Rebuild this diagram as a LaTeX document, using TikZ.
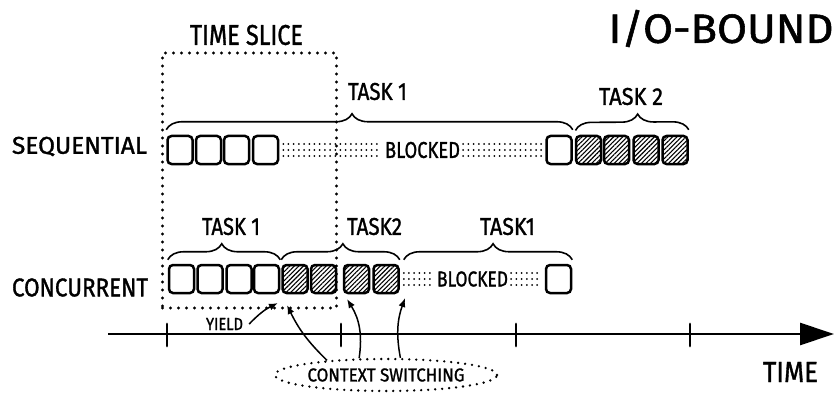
\documentclass[tikz,border=0pt]{standalone}
\usepackage{fontspec}
\setmainfont{Fira Sans}[FakeBold=1.3]
\usepackage{graphicx}
\usetikzlibrary{arrows.meta,decorations.pathreplacing,shapes.geometric,patterns.meta}
\newcommand{\fitt}[3]{\resizebox{#1pt}{#2pt}{#3}}
\begin{document}
\begin{tikzpicture}[x=1pt,y=-1pt,
  pbox/.style={draw, line width=2.5pt, rounded corners=4pt, minimum width=25pt, minimum height=28pt, inner sep=0pt},
  hbox/.style={pbox, pattern={Lines[angle=45,distance=3.2pt,line width=1.1pt]}},
  lbl/.style={inner sep=0pt},
  dotrow/.style={line width=2pt, line cap=round, dash pattern=on 0pt off 5.2pt},
  slicebox/.style={draw, line width=3.3pt, line cap=round, dash pattern=on 0pt off 8pt, minimum width=174pt, minimum height=255pt, inner sep=0pt},
  ctxell/.style={ellipse, draw, line width=2.6pt, line cap=round, dash pattern=on 0pt off 7pt, minimum width=190pt, minimum height=32pt, inner sep=0pt},
  bracestyle/.style={line width=1.6pt, decorate, decoration={brace, amplitude=16pt, aspect=#1}},
  axisline/.style={line width=2.6pt, -{Triangle[length=34pt,width=22pt]}},
  tickmark/.style={line width=2.8pt, line cap=round},
  arr/.style={line width=1.5pt, -{Latex[length=9pt,width=7pt]}}
]
\useasboundingbox (0,0) rectangle (835,393);

% time slice box
\node[slicebox] (slice) at (249.5,180.5) {};
\node[lbl] (ttl) at (246.5,35) {\fitt{113}{20}{TIME SLICE}};
\node[lbl] (io) at (721,28.5) {\fitt{225}{33}{I/O-BOUND}};

% sequential row
\node[lbl] (seq) at (79.5,146.5) {\fitt{135}{17}{SEQUENTIAL}};
\node[pbox] (s1) at (180,150) {};
\node[pbox] (s2) at (208.5,150) {};
\node[pbox] (s3) at (236.5,150) {};
\node[pbox] (s4) at (265.5,150) {};
\node[lbl] (bs) at (422.5,150) {\fitt{75}{16}{BLOCKED}};
\node[pbox] (s5) at (559,150) {};
\node[hbox] (h1) at (588.5,150) {};
\node[hbox] (h2) at (616.5,150) {};
\node[hbox] (h3) at (646,150) {};
\node[hbox] (h4) at (675,150) {};
\foreach \d in {-6,0,6} {
  \draw[dotrow] ([xshift=4pt,yshift=\d pt]s4.east) -- ([xshift=-3pt,yshift=\d pt]bs.west);
  \draw[dotrow] ([xshift=3pt,yshift=\d pt]bs.east) -- ([xshift=-3pt,yshift=\d pt]s5.west);
}
\draw[bracestyle=0.457] ([yshift=5pt]s1.north west) -- ([yshift=5pt]s5.north east);
\draw[bracestyle=0.55] ([yshift=5pt]h1.north west) -- ([yshift=5pt]h4.north east);
\node[lbl] (tk1) at (377.5,91.5) {\fitt{59}{17}{TASK 1}};
\node[lbl] (tk2) at (631,96.5) {\fitt{64}{17}{TASK 2}};

% concurrent row
\node[lbl] (conc) at (80,287.5) {\fitt{136}{18}{CONCURRENT}};
\node[pbox] (c1) at (181.5,279) {};
\node[pbox] (c2) at (210,279) {};
\node[pbox] (c3) at (239,279) {};
\node[pbox] (c4) at (266.5,279) {};
\node[hbox] (ch1) at (295,279) {};
\node[hbox] (ch2) at (323.5,279) {};
\node[hbox] (ch3) at (356.5,279) {};
\node[hbox] (ch4) at (386,279) {};
\node[lbl] (bc) at (472.5,279) {\fitt{71}{15}{BLOCKED}};
\node[pbox] (c5) at (558.5,279) {};
\foreach \d in {-6,0,6} {
  \draw[dotrow] ([xshift=4pt,yshift=\d pt]ch4.east) -- ([xshift=-3pt,yshift=\d pt]bc.west);
  \draw[dotrow] ([xshift=3pt,yshift=\d pt]bc.east) -- ([xshift=-3pt,yshift=\d pt]c5.west);
}
\draw[bracestyle=0.48] ([yshift=4pt]c1.north west) -- ([yshift=4pt]c4.north east);
\draw[bracestyle=0.52] ([yshift=4pt]ch1.north west) -- ([yshift=4pt]ch4.north east);
\draw[bracestyle=0.53] ([xshift=4pt,yshift=4pt]ch4.north east) -- ([yshift=4pt]c5.north east);
\node[lbl] (ct1) at (231,226.5) {\fitt{58}{17}{TASK 1}};
\node[lbl] (ct2) at (374.5,226.5) {\fitt{55}{17}{TASK2}};
\node[lbl] (ct3) at (507.5,226.5) {\fitt{55}{17}{TASK1}};

% time axis
\coordinate (ax0) at (108,334);
\coordinate (ax1) at (834,334);
\draw[axisline] (ax0) -- (ax1);
\foreach \k/\x in {k1/167,k2/341,k3/516,k4/690} {
  \coordinate (\k) at (\x,335);
  \draw[tickmark] ([yshift=11pt]\k) -- ([yshift=-11pt]\k);
}
\node[lbl] (time) at (790.5,372) {\fitt{55}{20}{TIME}};

% yield and context switching
\node[lbl] (yld) at (224.5,324) {\fitt{37}{12}{YIELD}};
\coordinate (ay) at (278,303);
\draw[arr] ([xshift=6pt]yld.east) to[bend left=10] (ay);
\node[ctxell] (cs) at (386,375) {\fitt{157}{13}{CONTEXT SWITCHING}};
\coordinate (a1) at (287,305);
\coordinate (a2) at (347,299);
\coordinate (a3) at (405,298);
\draw[arr] (cs.166) to[bend left=10] (a1);
\draw[arr] (cs.148) to[bend right=20] (a2);
\draw[arr] (cs.50) to[bend left=15] (a3);
\end{tikzpicture}
\end{document}
